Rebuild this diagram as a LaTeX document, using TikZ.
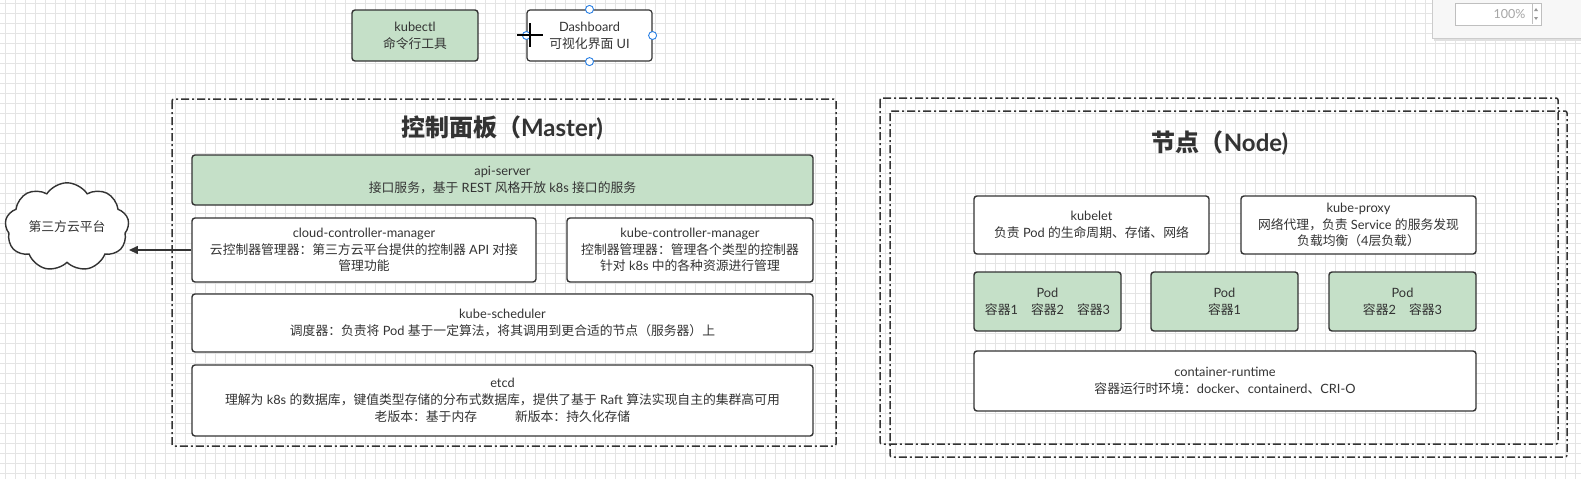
\documentclass[tikz,border=0pt]{standalone}
\usepackage{fontspec}
\setmainfont{Lato}
\newfontfamily\cjkf{Noto Sans CJK SC}
\newcommand\latf{\rmfamily}
\newXeTeXintercharclass\CJKcls
\newcount\cjkcc
\cjkcc="3000 \loop \XeTeXcharclass\cjkcc=\CJKcls \advance\cjkcc 1 \ifnum\cjkcc<"3040 \repeat
\cjkcc="4E00 \loop \XeTeXcharclass\cjkcc=\CJKcls \advance\cjkcc 1 \ifnum\cjkcc<"A000 \repeat
\cjkcc="FF00 \loop \XeTeXcharclass\cjkcc=\CJKcls \advance\cjkcc 1 \ifnum\cjkcc<"FFF0 \repeat
\XeTeXinterchartoks 0 \CJKcls = {\cjkf}
\XeTeXinterchartoks 4095 \CJKcls = {\cjkf}
\XeTeXinterchartoks \CJKcls 0 = {\latf}
\XeTeXinterchartoks \CJKcls 4095 = {\latf}
\XeTeXinterchartokenstate=1
\usetikzlibrary{shapes.symbols,arrows.meta}
\definecolor{ink}{RGB}{51,51,51}
\definecolor{podgreen}{RGB}{197,224,200}
\definecolor{gridc}{RGB}{228,228,228}
\definecolor{handle}{RGB}{41,128,229}
\tikzset{
  box/.style={draw=ink, line width=1.4pt, rounded corners=3pt, fill=white, inner sep=0pt, align=center, text=ink, font=\fontsize{12.8}{16.8}\selectfont},
  gbox/.style={box, fill=podgreen},
  group/.style={draw=ink, line width=1.5pt, dash pattern=on 8pt off 3pt on 2pt off 3pt, rounded corners=2pt},
  title/.style={text=ink, font=\fontsize{24}{27}\selectfont\bfseries},
  handledot/.style={circle, draw=handle, fill=white, line width=0.9pt, inner sep=0pt, minimum size=8pt}
}
\begin{document}
\begin{tikzpicture}[x=1pt,y=-1pt]
\useasboundingbox (0,0) rectangle (1581,479);
\fill[white] (0,0) rectangle (1581,479);
% grid
\foreach \gx in {5,15,...,1581} {\draw[gridc, line width=0.6pt] (\gx,0) -- (\gx,479);}
\foreach \gy in {3,13,...,479} {\draw[gridc, line width=0.6pt] (0,\gy) -- (1581,\gy);}

% top tools
\node[gbox, minimum width=126pt, minimum height=51pt] (kubectl) at (415,35.5) {kubectl\\命令行工具};
\node[box, minimum width=125pt, minimum height=51pt, line width=1.2pt] (dash) at (589.5,35.5) {Dashboard\\可视化界面 UI};
\node[handledot] (h1) at (dash.north) {};
\node[handledot] (h2) at (dash.east) {};
\node[handledot] (h3) at (dash.south) {};
\node[handledot] (h4) at (dash.west) {};
\draw[black, line width=1.6pt] (517,35) -- (543,35) (530,23) -- (530,47);

% master group
\draw[group] (172,99) rectangle (836,446);
\node[title] (mtitle) at (502,128) {控制面板（Master)};
\node[gbox, minimum width=621pt, minimum height=50pt] (api) at (502.5,180) {api-server\\接口服务，基于 REST 风格开放 k8s 接口的服务};
\node[box, minimum width=344pt, minimum height=64pt] (ccm) at (364,250) {cloud-controller-manager\\云控制器管理器：第三方云平台提供的控制器 API 对接\\管理功能};
\node[box, minimum width=246pt, minimum height=64pt] (kcm) at (690,250) {kube-controller-manager\\控制器管理器：管理各个类型的控制器\\针对 k8s 中的各种资源进行管理};
\node[box, minimum width=621pt, minimum height=58pt] (sched) at (502.5,323) {kube-scheduler\\调度器：负责将 Pod 基于一定算法，将其调用到更合适的节点（服务器）上};
\node[box, minimum width=621pt, minimum height=71pt] (etcd) at (502.5,400.5) {etcd\\理解为 k8s 的数据库，键值类型存储的分布式数据库，提供了基于 Raft 算法实现自主的集群高可用\\老版本：基于内存\hspace{38pt}新版本：持久化存储};

% cloud
\node[cloud, cloud puffs=9, cloud puff arc=115, aspect=1.5, draw=ink, line width=1.4pt, fill=white, minimum width=124pt, minimum height=80pt, inner sep=0pt, text=ink, font=\fontsize{12.8}{15}\selectfont] (cloud) at (67,227) {第三方云平台};
\draw[draw=ink, line width=1.4pt, -{Triangle[length=9pt,width=8pt]}] (ccm.west) -- (ccm.west -| cloud.east);

% node groups
\draw[group] (880,98) rectangle (1558,444);
\draw[group] (890,111) rectangle (1567,457);
\node[title] (ntitle) at (1220,143) {节点（Node)};
\node[box, minimum width=235pt, minimum height=58pt] (kubelet) at (1091.5,225) {kubelet\\负责 Pod 的生命周期、存储、网络};
\node[box, minimum width=235pt, minimum height=58pt] (proxy) at (1358.5,225) {kube-proxy\\网络代理，负责 Service 的服务发现\\负载均衡（4层负载）};
\node[gbox, minimum width=147pt, minimum height=59pt] (pod1) at (1047.5,301.5) {Pod\\容器1\hspace{13pt}容器2\hspace{13pt}容器3};
\node[gbox, minimum width=147pt, minimum height=59pt] (pod2) at (1224.5,301.5) {Pod\\容器1};
\node[gbox, minimum width=147pt, minimum height=59pt] (pod3) at (1402.5,301.5) {Pod\\容器2\hspace{13pt}容器3};
\node[box, minimum width=502pt, minimum height=60pt] (cr) at (1225,381) {container-runtime\\容器运行时环境：docker、containerd、CRI-O};

% zoom panel
\fill[black!12] (1434,-2) rectangle (1584,41);
\draw[draw=black!20, fill=black!3] (1432,-2) rectangle (1584,38);
\node[draw=black!25, fill=white, minimum width=86pt, minimum height=22pt, inner sep=0pt, anchor=north west] (zbox) at (1455,3) {};
\node[text=black!35, anchor=east, font=\fontsize{12.5}{14}\selectfont] (ztxt) at (1529,14) {100\%};
\draw[black!25] (1532,4) -- (1532,24);
\fill[black!40] (1534,11) -- (1538,11) -- (1536,8) -- cycle;
\fill[black!40] (1534,17) -- (1538,17) -- (1536,20) -- cycle;
\end{tikzpicture}
\end{document}
